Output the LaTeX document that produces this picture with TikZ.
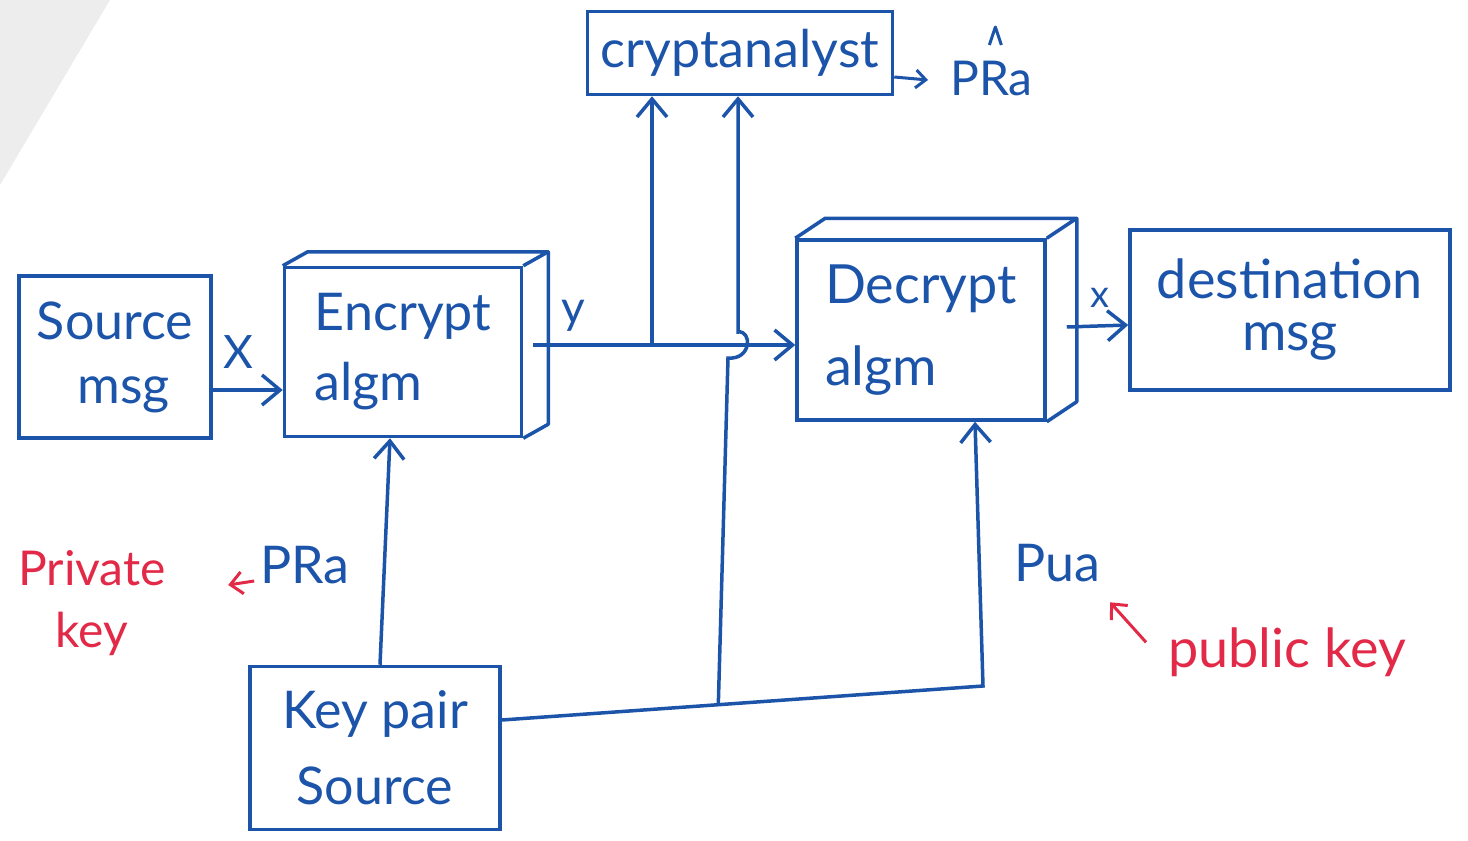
\documentclass[tikz,border=0pt]{standalone}
\usepackage{fontspec}
\setmainfont{Lato}
\usetikzlibrary{arrows.meta,calc}
\definecolor{ink}{RGB}{28,84,170}
\definecolor{redink}{RGB}{226,42,72}
\begin{document}
\begin{tikzpicture}[x=1pt,y=-1pt,
  lw/.style={line width=3.5pt},
  box/.style={draw=ink, lw, align=center, text=ink, inner sep=0pt,
    font=\fontsize{52}{64}\selectfont},
  edge3d/.style={draw=ink, lw, line join=round},
  arr/.style={draw=ink, lw, -{Straight Barb[length=18pt,width=30pt]}},
  smallarr/.style={draw=ink, line width=3pt, -{Straight Barb[length=10pt,width=18pt]}},
  redarr/.style={draw=redink, line width=3pt, -{Straight Barb[length=12pt,width=22pt]}},
  lbl/.style={text=ink, inner sep=0pt, font=\fontsize{46}{56}\selectfont},
  redlbl/.style={text=redink, inner sep=0pt, align=center, font=\fontsize{48}{62}\selectfont}]
\useasboundingbox (0,0) rectangle (1468,841);
\fill[gray!14] (0,0) -- (110,0) -- (0,185) -- cycle;

% boxes
\node[box, minimum width=192pt, minimum height=162pt] (src) at (115,357) {Source\\\,\,msg};
\node[box, minimum width=237pt, minimum height=169pt, align=left, font=\fontsize{52}{70}\selectfont] (enc) at (403,352) {Encrypt\\algm};
\draw[edge3d] (enc.north west) -- ++(25,-14) -- ($(enc.north east)+(25,-14)$) -- (enc.north east);
\draw[edge3d] ($(enc.north east)+(25,-14)$) -- ($(enc.south east)+(25,-14)$) -- (enc.south east);
\node[box, minimum width=248pt, minimum height=180pt, align=left, font=\fontsize{54}{82}\selectfont] (dec) at (921,330) {Decrypt\\algm};
\draw[edge3d] (dec.north west) -- ++(30,-20) -- ($(dec.north east)+(30,-20)$) -- (dec.north east);
\draw[edge3d] ($(dec.north east)+(30,-20)$) -- ($(dec.south east)+(30,-20)$) -- (dec.south east);
\node[box, minimum width=320pt, minimum height=160pt, font=\fontsize{54}{52}\selectfont] (dst) at (1290,310) {destination\\msg};
\node[box, minimum width=305pt, minimum height=83pt] (cry) at (740,53) {cryptanalyst};
\node[box, minimum width=250pt, minimum height=163pt, font=\fontsize{52}{76}\selectfont] (kps) at (375,748) {Key pair\\Source};

% labels
\node[lbl] (lx) at (238,352) {X};
\node[lbl] (ly) at (573,316) {y};
\node[lbl, font=\fontsize{38}{40}\selectfont] (lx2) at (1100,298) {x};
\node[lbl, anchor=base west, font=\fontsize{48}{56}\selectfont] (pra) at (950,95) {PRa};
\draw[ink, line width=3pt, line join=round] ([xshift=-2pt,yshift=50pt]pra.base) -- ([xshift=4pt,yshift=68pt]pra.base) -- ([xshift=10pt,yshift=50pt]pra.base);
\node[lbl, font=\fontsize{52}{60}\selectfont] (prl) at (305,565) {PRa};
\node[lbl, font=\fontsize{52}{60}\selectfont] (pua) at (1057,563) {Pua};
\node[redlbl] (pk) at (92,603) {Private\\key};
\node[redlbl, font=\fontsize{54}{60}\selectfont] (pubk) at (1287,652) {public key};

% connectors
\draw[arr] ([yshift=-33pt]src.east) -- ([yshift=-38pt]enc.west);
\coordinate (ys) at ($(enc.east)+(10,-7)$);
\coordinate (br) at (652,345);
\draw[arr] (ys) -- ([yshift=-15pt]dec.west);
\draw[arr] (br) -- (br |- cry.south);
\coordinate (ke) at ([yshift=28pt]kps.east);
\coordinate (kc) at (983,686);
\draw[arr] (ke) -- (kc) -- ([xshift=54pt]dec.south);
\coordinate (kj) at ($(ke)!0.45!(kc)$);
\coordinate (h1) at (728,358);
\coordinate (h2) at (738,332);
\draw[arr] (kj) -- (h1) .. controls (752,360) and (752,330) .. (h2) -- ([xshift=-2pt]cry.south);
\draw[arr] ([xshift=5pt]kps.north) -- ([xshift=-13pt]enc.south);
\draw[arr] ([xshift=20pt,yshift=3pt]dec.east) -- ([yshift=-15pt]dst.west);
\draw[smallarr] ([yshift=-24pt]cry.east) -- ([xshift=-22pt,yshift=15pt]pra.base west);
\draw[redarr] ([xshift=-6pt,yshift=-16pt]prl.west) -- ++(-26,4);
\draw[redarr] ([xshift=-22pt,yshift=-15pt]pubk.north west) -- ++(-36,-40);
\end{tikzpicture}
\end{document}
